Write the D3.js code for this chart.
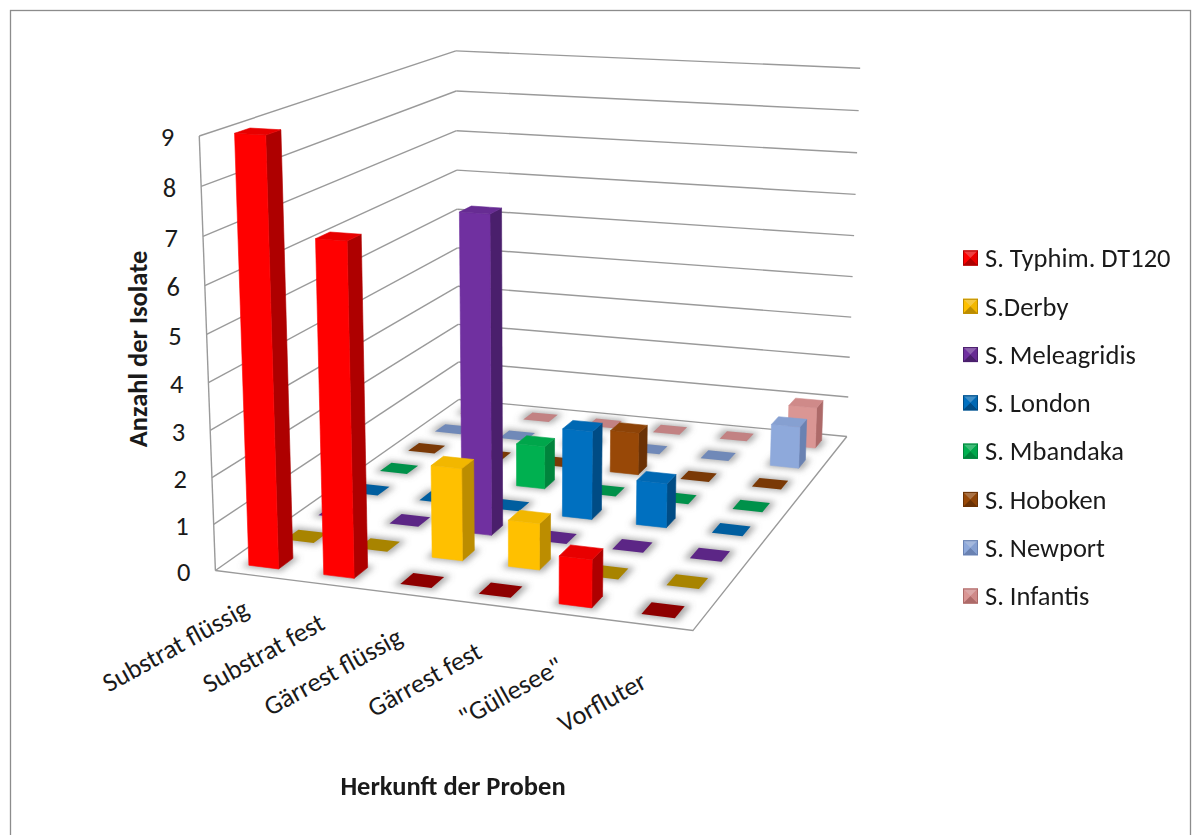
<!DOCTYPE html>
<html>
<head>
<meta charset="utf-8">
<script src="https://cdn.jsdelivr.net/npm/d3@7"></script>
<style>
  html, body { margin: 0; padding: 0; background: #fff; }
  svg { display: block; font-family: Carlito, Calibri, Lato, sans-serif; }
</style>
</head>
<body>
<svg id="chart" width="1194" height="835"></svg>
<script>
// ---- data -------------------------------------------------------------
const categories = ["Substrat flüssig", "Substrat fest", "Gärrest flüssig", "Gärrest fest", "\"Güllesee\"", "Vorfluter"];
const seriesNames = ["S. Typhim. DT120", "S.Derby", "S. Meleagridis", "S. London", "S. Mbandaka", "S. Hoboken", "S. Newport", "S. Infantis"];

const typhimurium = [9, 7, 0, 0, 1, 0];
const derby       = [0, 0, 2, 1, 0, 0];
const meleagridis = [0, 0, 7, 0, 0, 0];
const london      = [0, 0, 0, 2, 1, 0];
const mbandaka    = [0, 0, 1, 0, 0, 0];
const hoboken     = [0, 0, 0, 1, 0, 0];
const newport     = [0, 0, 0, 0, 0, 1];
const infantis    = [0, 0, 0, 0, 0, 1];
const seriesValues = [typhimurium, derby, meleagridis, london, mbandaka, hoboken, newport, infantis];

const yTicks = [0, 1, 2, 3, 4, 5, 6, 7, 8, 9];

// ---- styles -----------------------------------------------------------
const palette = [
  { front: "#FF0000", side: "#AE0000", top: "#E80000", flat: "#8E0000" },
  { front: "#FFC000", side: "#BC8D00", top: "#F2B700", flat: "#A88400" },
  { front: "#7030A0", side: "#4A1F6C", top: "#672C93", flat: "#5C2686" },
  { front: "#0070C0", side: "#004C85", top: "#0068B3", flat: "#005E9F" },
  { front: "#00B050", side: "#00843C", top: "#00A64B", flat: "#00914A" },
  { front: "#984807", side: "#6B3205", top: "#8D4307", flat: "#7A3906" },
  { front: "#8EA9DB", side: "#6A82B2", top: "#86A0D1", flat: "#7089B8" },
  { front: "#DA9694", side: "#AD6A69", top: "#CF8A89", flat: "#C28283" }
];
const gridColor = "#9a9a9a";
const textColor = "#1a1a1a";
const fontSize = "26.5px";

// ---- 3D frame: world box [0,1]^3 (x = categories, y = value, z = series depth)
// calibrated perspective camera from the corners of the plot box
const frameCorners = [
  [[0, 0, 0], [215, 567.3]],
  [[0, 1, 0], [199.3, 136.7]],
  [[0, 1, 1], [456, 49.3]],
  [[1, 1, 1], [860, 69.3]],
  [[1, 0, 1], [846.7, 433.3]],
  [[1, 0, 0], [693.3, 633.3]],
  [[0, 0, 1], [459, 403]]
];

function solveLinear(A, b) {
  const n = b.length;
  const M = A.map((row, i) => row.concat([b[i]]));
  for (let c = 0; c < n; c++) {
    let piv = c;
    for (let r = c + 1; r < n; r++) if (Math.abs(M[r][c]) > Math.abs(M[piv][c])) piv = r;
    [M[c], M[piv]] = [M[piv], M[c]];
    for (let r = 0; r < n; r++) {
      if (r === c) continue;
      const f = M[r][c] / M[c][c];
      for (let k = c; k <= n; k++) M[r][k] -= f * M[c][k];
    }
  }
  return M.map((row, i) => row[n] / row[i]);
}

function fitCamera(pairs) {
  const s = 500, cu = 500, cv = 400;
  const rows = [], rhs = [];
  for (const [[X, Y, Z], [u0, v0]] of pairs) {
    const u = (u0 - cu) / s, v = (v0 - cv) / s;
    rows.push([X, Y, Z, 1, 0, 0, 0, 0, -u * X, -u * Y, -u * Z]); rhs.push(u);
    rows.push([0, 0, 0, 0, X, Y, Z, 1, -v * X, -v * Y, -v * Z]); rhs.push(v);
  }
  const n = 11;
  const N = d3.range(n).map(() => new Array(n).fill(0));
  const r = new Array(n).fill(0);
  rows.forEach((row, k) => {
    for (let i = 0; i < n; i++) {
      r[i] += row[i] * rhs[k];
      for (let j = 0; j < n; j++) N[i][j] += row[i] * row[j];
    }
  });
  const p = solveLinear(N, r);
  const P = [[p[0], p[1], p[2], p[3]], [p[4], p[5], p[6], p[7]], [p[8], p[9], p[10], 1]];
  const project = (X, Y, Z) => {
    const w = P[2][0] * X + P[2][1] * Y + P[2][2] * Z + P[2][3];
    return [
      cu + s * (P[0][0] * X + P[0][1] * Y + P[0][2] * Z + P[0][3]) / w,
      cv + s * (P[1][0] * X + P[1][1] * Y + P[1][2] * Z + P[1][3]) / w
    ];
  };
  const C = solveLinear(
    [[P[0][0], P[0][1], P[0][2]], [P[1][0], P[1][1], P[1][2]], [P[2][0], P[2][1], P[2][2]]],
    [-P[0][3], -P[1][3], -P[2][3]]
  );
  return { project, eye: { x: C[0], y: C[1], z: C[2] } };
}

const cam = fitCamera(frameCorners);
const project = cam.project;

// ---- scales -----------------------------------------------------------
const xBand = d3.scaleBand().domain(categories).range([0, 1]).paddingInner(0.6).paddingOuter(0.3);
const zBand = d3.scaleBand().domain(seriesNames).range([0, 1]).paddingInner(0.6).paddingOuter(0.3);
const yLin = d3.scaleLinear().domain([0, 9]).range([0, 1]);
const legendY = d3.scalePoint().domain(seriesNames).range([258, 596]);

// ---- svg --------------------------------------------------------------
const svg = d3.select("#chart");
const defs = svg.append("defs");
defs.append("filter").attr("id", "soft").attr("x", "-50%").attr("y", "-50%").attr("width", "200%").attr("height", "200%")
  .append("feGaussianBlur").attr("stdDeviation", 3);

// chart area outline
svg.append("rect")
  .attr("x", 10.5).attr("y", 10.5).attr("width", 1180).attr("height", 860)
  .attr("fill", "#fff").attr("stroke", "#8c8c8c").attr("stroke-width", 1.3);

const line = d3.line();
const poly = pts => line(pts) + "Z";

// walls and floor
const frame = svg.append("g").attr("fill", "none").attr("stroke", gridColor).attr("stroke-width", 1.4);
yTicks.forEach(t => {
  const y = yLin(t);
  frame.append("path").attr("d", line([project(0, y, 0), project(0, y, 1)]));
  frame.append("path").attr("d", line([project(0, y, 1), project(1, y, 1)]));
});
frame.append("path").attr("d", line([project(0, 0, 0), project(0, 1, 0)]));
frame.append("path").attr("d", line([project(0, 0, 0), project(1, 0, 0), project(1, 0, 1)]));

// value axis labels
const yAxis = svg.append("g").attr("fill", textColor).style("font-size", fontSize).attr("text-anchor", "end");
yTicks.forEach(t => {
  const [px, py] = project(0, yLin(t), 0);
  yAxis.append("text").attr("x", px - 25).attr("y", py + 1).attr("dy", "0.35em").text(t);
});

// category labels
const xAxis = svg.append("g").attr("fill", textColor).style("font-size", fontSize).attr("text-anchor", "end");
categories.forEach((c, i) => {
  const [px, py] = project(xBand(c) + xBand.bandwidth() / 2, 0, 0);
  const ax = px - 2, ay = py + 39 + i * 4.5;
  xAxis.append("text").attr("transform", `translate(${ax},${ay}) rotate(-29)`).text(c);
});

// ---- bars -------------------------------------------------------------
const eye = cam.eye;
const cells = [];
seriesNames.forEach((s, j) => categories.forEach((c, i) => {
  cells.push({ s, c, j, i, value: seriesValues[j][i] });
}));
cells.forEach(d => {
  d.x0 = xBand(d.c); d.x1 = d.x0 + xBand.bandwidth();
  d.z0 = zBand(d.s); d.z1 = d.z0 + zBand.bandwidth();
  d.y1 = yLin(d.value);
});
// back rows first, then columns farthest from the eye first
cells.sort((a, b) => (b.j - a.j) || (Math.abs((b.x0 + b.x1) / 2 - eye.x) - Math.abs((a.x0 + a.x1) / 2 - eye.x)) * -1);

// soft floor shadows
const shadows = svg.append("g").attr("filter", "url(#soft)");
cells.forEach(d => {
  const ex = xBand.bandwidth() * 0.16, ez = zBand.bandwidth() * 0.16;
  shadows.append("path")
    .attr("d", poly([project(d.x0 - ex, 0, d.z0 - ez), project(d.x1 + ex, 0, d.z0 - ez), project(d.x1 + ex, 0, d.z1 + ez), project(d.x0 - ex, 0, d.z1 + ez)]))
    .attr("fill", "#6f6f6f").attr("opacity", 0.6);
});

const bars = svg.append("g");
cells.forEach(d => {
  const col = palette[d.j];
  const g = bars.append("g");
  const { x0, x1, z0, z1, y1 } = d;
  if (d.value === 0) {
    g.append("path")
      .attr("d", poly([project(x0, 0, z0), project(x1, 0, z0), project(x1, 0, z1), project(x0, 0, z1)]))
      .attr("fill", col.flat);
    return;
  }
  const faces = [];
  if (eye.z > z1) faces.push({ pts: [[x0, 0, z1], [x1, 0, z1], [x1, y1, z1], [x0, y1, z1]], fill: col.side });
  if (eye.x < x0) faces.push({ pts: [[x0, 0, z0], [x0, 0, z1], [x0, y1, z1], [x0, y1, z0]], fill: col.side });
  if (eye.x > x1) faces.push({ pts: [[x1, 0, z0], [x1, 0, z1], [x1, y1, z1], [x1, y1, z0]], fill: col.side });
  if (eye.z < z0) faces.push({ pts: [[x0, 0, z0], [x1, 0, z0], [x1, y1, z0], [x0, y1, z0]], fill: col.front });
  if (eye.y > y1) faces.push({ pts: [[x0, y1, z0], [x1, y1, z0], [x1, y1, z1], [x0, y1, z1]], fill: col.top });
  faces.forEach(f => {
    g.append("path")
      .attr("d", poly(f.pts.map(p => project(p[0], p[1], p[2]))))
      .attr("fill", f.fill).attr("stroke", f.fill).attr("stroke-width", 0.6).attr("stroke-linejoin", "round");
  });
});

// ---- axis titles ------------------------------------------------------
svg.append("text")
  .attr("transform", "translate(138,349) rotate(-90)")
  .attr("text-anchor", "middle").attr("dominant-baseline", "central")
  .attr("fill", textColor).style("font-size", fontSize).style("font-weight", "bold")
  .text("Anzahl der Isolate");

svg.append("text")
  .attr("x", 453).attr("y", 786)
  .attr("text-anchor", "middle").attr("dominant-baseline", "central")
  .attr("fill", textColor).style("font-size", fontSize).style("font-weight", "bold")
  .text("Herkunft der Proben");

// ---- legend -----------------------------------------------------------
const legend = svg.append("g").style("font-size", fontSize).attr("fill", textColor);
seriesNames.forEach((name, j) => {
  const col = palette[j];
  const cy = legendY(name);
  const s = 15, x = 963, y = cy - s / 2;
  const c = [x + s / 2, cy];
  const item = legend.append("g");
  item.append("rect").attr("x", x).attr("y", y).attr("width", s).attr("height", s).attr("fill", col.front);
  item.append("path").attr("d", poly([[x, y], [x + s, y], c])).attr("fill", d3.interpolateRgb(col.top, "#fff")(0.25));
  item.append("path").attr("d", poly([[x, y + s], [x + s, y + s], c])).attr("fill", col.side);
  item.append("path").attr("d", poly([[x + s, y], [x + s, y + s], c])).attr("fill", col.top);
  item.append("rect").attr("x", x + 0.5).attr("y", y + 0.5).attr("width", s - 1).attr("height", s - 1)
    .attr("fill", "none").attr("stroke", col.side).attr("stroke-width", 1);
  item.append("text").attr("x", 985).attr("y", cy).attr("dy", "0.35em").text(name);
});
</script>
</body>
</html>
